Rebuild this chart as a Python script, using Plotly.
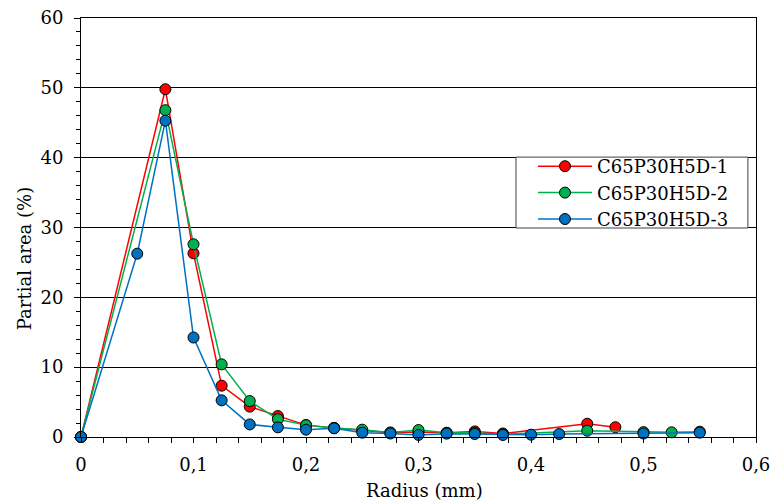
import plotly.graph_objects as go

# Data
x1 = [0, 0.075, 0.1, 0.125, 0.15, 0.175, 0.2, 0.225, 0.25, 0.275, 0.3, 0.325, 0.35, 0.375, 0.45, 0.475]
y1 = [0, 49.8, 26.3, 7.35, 4.35, 3.0, 1.7, 1.3, 0.9, 0.6, 0.7, 0.6, 0.8, 0.5, 1.9, 1.4]

x2 = [0, 0.075, 0.1, 0.125, 0.15, 0.175, 0.2, 0.225, 0.25, 0.275, 0.3, 0.325, 0.35, 0.375, 0.45, 0.5, 0.525, 0.55]
y2 = [0, 46.8, 27.6, 10.4, 5.15, 2.55, 1.7, 1.3, 1.05, 0.65, 1.0, 0.6, 0.6, 0.4, 0.9, 0.7, 0.67, 0.76]

x3 = [0, 0.05, 0.075, 0.1, 0.125, 0.15, 0.175, 0.2, 0.225, 0.25, 0.275, 0.3, 0.325, 0.35, 0.375, 0.4, 0.425, 0.5, 0.55]
y3 = [0, 26.25, 45.3, 14.25, 5.25, 1.8, 1.38, 1.05, 1.24, 0.62, 0.5, 0.3, 0.48, 0.43, 0.29, 0.33, 0.43, 0.5, 0.62]

names = ["C65P30H5D-1", "C65P30H5D-2", "C65P30H5D-3"]
colors = ["#FF0000", "#00B050", "#0070C0"]
x_title = "Radius (mm)"
y_title = "Partial area (%)"

FONT = "DejaVu Serif"

fig = go.Figure()
for xs, ys, nm, col in zip([x1, x2, x3], [y1, y2, y3], names, colors):
    fig.add_trace(go.Scatter(
        x=xs, y=ys, name=nm, mode="lines+markers",
        line=dict(color=col, width=1.5),
        marker=dict(color=col, size=11, line=dict(color="black", width=1)),
        cliponaxis=False,
    ))

fig.update_layout(
    width=774, height=502,
    margin=dict(l=81, r=18, t=18, b=65, autoexpand=False),
    paper_bgcolor="white", plot_bgcolor="white",
    separators=",.",
    font=dict(family=FONT, size=18, color="black"),
    showlegend=True,
    legend=dict(
        x=0.6696, y=0.6897, xanchor="left", yanchor="top",
        bgcolor="rgba(0,0,0,0)", borderwidth=0,
        font=dict(family=FONT, size=18, color="black"),
        itemwidth=54, tracegroupgap=0,
    ),
    shapes=[dict(
        type="rect", xref="paper", yref="paper",
        x0=0.6444, x1=0.988, y0=0.4988, y1=0.668,
        fillcolor="white", line=dict(color="#404040", width=1), layer="above",
    )],
    annotations=[
        dict(text=x_title, xref="paper", yref="paper", x=0.509, y=-0.1265,
             xanchor="center", yanchor="middle", showarrow=False,
             font=dict(family=FONT, size=18, color="black")),
        dict(text=y_title, xref="paper", yref="paper", x=-0.0834, y=0.426,
             xanchor="center", yanchor="middle", showarrow=False, textangle=-90,
             font=dict(family=FONT, size=18, color="black")),
    ],
)

fig.update_xaxes(
    range=[0, 0.6], dtick=0.1, tick0=0, automargin=False,
    showgrid=False, zeroline=False,
    showline=True, linecolor="black", linewidth=1, mirror=True,
    ticks="outside", ticklen=5, tickcolor="black", ticklabelstandoff=6,
    minor=dict(dtick=0.02, ticks="outside", ticklen=5, tickcolor="black", showgrid=False),
    tickfont=dict(family=FONT, size=18),
)
fig.update_yaxes(
    range=[0, 60], dtick=10, tick0=0, automargin=False,
    showgrid=True, gridcolor="black", gridwidth=1,
    zeroline=False,
    showline=True, linecolor="black", linewidth=1, mirror=True,
    ticks="outside", ticklen=6, tickcolor="black", ticklabelstandoff=7,
    minor=dict(dtick=2, ticks="outside", ticklen=4, tickcolor="black", showgrid=False),
    tickfont=dict(family=FONT, size=18),
)

fig.write_html(
    "out.html",
    config={"displayModeBar": False},
    post_script="document.body.style.margin='0';document.body.style.overflow='hidden';",
)
